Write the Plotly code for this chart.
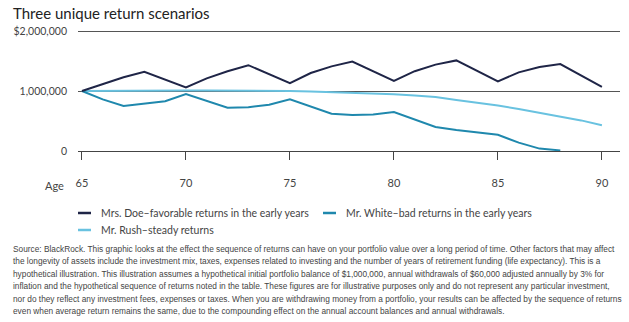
import plotly.graph_objects as go

ages = list(range(65, 91))
doe = [1.00, 1.11, 1.23, 1.32, 1.19, 1.06, 1.21, 1.33, 1.43, 1.28, 1.13, 1.30, 1.41, 1.49, 1.33,
       1.17, 1.33, 1.44, 1.51, 1.34, 1.16, 1.31, 1.40, 1.45, 1.26, 1.07]
white = [1.00, 0.86, 0.75, 0.79, 0.83, 0.95, 0.83, 0.72, 0.73, 0.77, 0.86, 0.74, 0.62, 0.60, 0.61,
         0.65, 0.52, 0.40, 0.35, 0.31, 0.27, 0.14, 0.04, 0.01]
rush = [1.00, 1.004, 1.006, 1.008, 1.01, 1.01, 1.01, 1.01, 1.008, 1.005, 1.0, 0.99, 0.98, 0.97, 0.96,
        0.945, 0.925, 0.90, 0.85, 0.81, 0.76, 0.70, 0.64, 0.58, 0.51, 0.43]
names = ["Mrs. Doe\u2013favorable returns in the early years",
         "Mr. White\u2013bad returns in the early years",
         "Mr. Rush\u2013steady returns"]
colors = ["#1f2547", "#1f88ad", "#69c2e0"]
ytickvals = [0, 1_000_000, 2_000_000]
yticktext = ["0", "1,000,000", "$2,000,000"]
xtickvals = [65, 70, 75, 80, 85, 90]

footnote = [
    "Source: BlackRock. This graphic looks at the effect the sequence of returns can have on your portfolio value over a long period of time. Other factors that may affect",
    "the longevity of assets include the investment mix, taxes, expenses related to investing and the number of years of retirement funding (life expectancy). This is a",
    "hypothetical illustration. This illustration assumes a hypothetical initial portfolio balance of $1,000,000, annual withdrawals of $60,000 adjusted annually by 3% for",
    "inflation and the hypothetical sequence of returns noted in the table. These figures are for illustrative purposes only and do not represent any particular investment,",
    "nor do they reflect any investment fees, expenses or taxes. When you are withdrawing money from a portfolio, your results can be affected by the sequence of returns",
    "even when average return remains the same, due to the compounding effect on the annual account balances and annual withdrawals.",
]

series = [doe, white, rush]
fig = go.Figure()
for i in [2, 1, 0]:
    vals = series[i]
    fig.add_trace(go.Scatter(
        x=ages[:len(vals)], y=[v * 1_000_000 for v in vals], mode="lines",
        name=names[i], line=dict(color=colors[i], width=2), showlegend=False))

W, H = 629, 322
L, R, T, B = 78, 9, 25, 171
pw, ph = W - L - R, H - T - B

def px(x):
    return (x - L) / pw

def py(y):
    return 1 - (y - T) / ph

shapes = []
annotations = []
font_main = "Lato, 'Open Sans', sans-serif"

leg = [(78, 213, 0), (323, 213, 1), (78, 230, 2)]
for x0, y0, i in leg:
    shapes.append(dict(type="line", xref="paper", yref="paper", x0=px(x0), x1=px(x0 + 13),
                       y0=py(y0), y1=py(y0), line=dict(color=colors[i], width=2.5)))
    annotations.append(dict(xref="paper", yref="paper", x=px(x0 + 21), y=py(y0), text=names[i],
                            showarrow=False, xanchor="left", yanchor="middle",
                            font=dict(size=10.5, color="#444", family=font_main)))

annotations.append(dict(xref="paper", yref="paper", x=px(66), y=py(185), text="Age",
                        showarrow=False, xanchor="right", yanchor="middle",
                        font=dict(size=11, color="#444", family=font_main)))
annotations.append(dict(xref="paper", yref="paper", x=px(11), y=py(2), text="Three unique return scenarios",
                        showarrow=False, xanchor="left", yanchor="top",
                        font=dict(size=15, color="#222", family=font_main)))
for k, line in enumerate(footnote):
    annotations.append(dict(xref="paper", yref="paper", x=px(11), y=py(249 + 12.4 * k), text=line,
                            showarrow=False, xanchor="left", yanchor="middle", align="left",
                            font=dict(size=8.3, color="#444", family="'Liberation Sans', Arial, sans-serif")))

fig.update_layout(
    width=W, height=H, margin=dict(l=L, r=R, t=T, b=B),
    paper_bgcolor="white", plot_bgcolor="white",
    shapes=shapes, annotations=annotations,
    xaxis=dict(range=[64.81, 90.87], tickvals=xtickvals, ticks="outside", ticklen=8,
               tickcolor="#444", tickwidth=1.2, showgrid=False, zeroline=False,
               showline=True, linecolor="#444", linewidth=1.3,
               ticklabelstandoff=14,
               tickfont=dict(size=11, color="#444", family=font_main), fixedrange=True),
    yaxis=dict(range=[0, 2_100_000], tickvals=ytickvals, ticktext=yticktext,
               showgrid=True, gridcolor="#555", gridwidth=1.3, zeroline=False,
               showline=False, ticks="", ticklabelstandoff=10,
               tickfont=dict(size=10.5, color="#444", family=font_main), fixedrange=True),
)
fig.write_html("out.html")
